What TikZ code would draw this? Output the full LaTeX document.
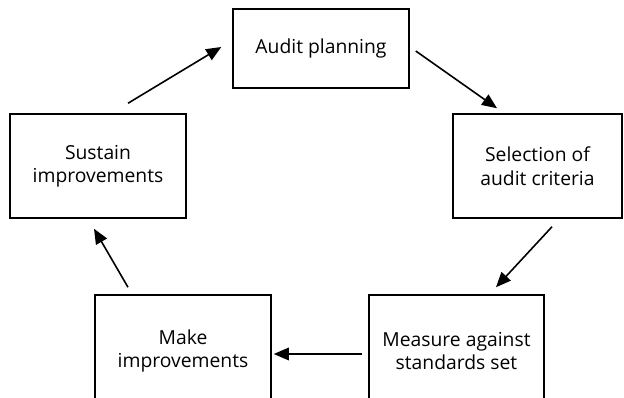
\documentclass[tikz,border=0pt]{standalone}
\usepackage{fontspec}
\setmainfont{Open Sans}
\usetikzlibrary{arrows.meta,calc}
\begin{document}
\begin{tikzpicture}[x=1pt,y=-1pt,
  stepbox/.style={draw=black,line width=1.5pt,fill=white,align=center,inner sep=0pt,
    font=\fontsize{19.3}{23.5}\selectfont},
  flow/.style={line width=1.6pt,-{Triangle[length=15pt,width=12.5pt]}}]
\useasboundingbox (0,0) rectangle (624,398);
\node[stepbox,minimum width=176pt,minimum height=79pt] (audit) at (321,48.5) {\raisebox{-2pt}{Audit planning}};
\node[stepbox,minimum width=176pt,minimum height=104pt] (sustain) at (98,166) {Sustain\\improvements};
\node[stepbox,minimum width=169pt,minimum height=104pt] (selection) at (537.5,166) {Selection of\\audit criteria};
\node[stepbox,minimum width=176pt,minimum height=112pt] (make) at (183,351) {Make\\improvements};
\node[stepbox,minimum width=175pt,minimum height=112pt] (measure) at (456.5,351) {Measure against\\standards set};
\draw[flow] ($(audit.east)+(6,2.5)$) -- ($(selection.north)+(-40.5,-5)$);
\draw[flow] ($(selection.south)+(14.5,8)$) -- ($(measure.north)+(39.5,-7)$);
\draw[flow] ($(measure.west)+(-6,3)$) -- ($(make.east)+(2,3)$);
\draw[flow] ($(make.north)+(-55,-7)$) -- ($(sustain.south)+(-4,10)$);
\draw[flow] ($(sustain.north)+(30,-10)$) -- ($(audit.west)+(-11,-1.5)$);
\end{tikzpicture}
\end{document}
